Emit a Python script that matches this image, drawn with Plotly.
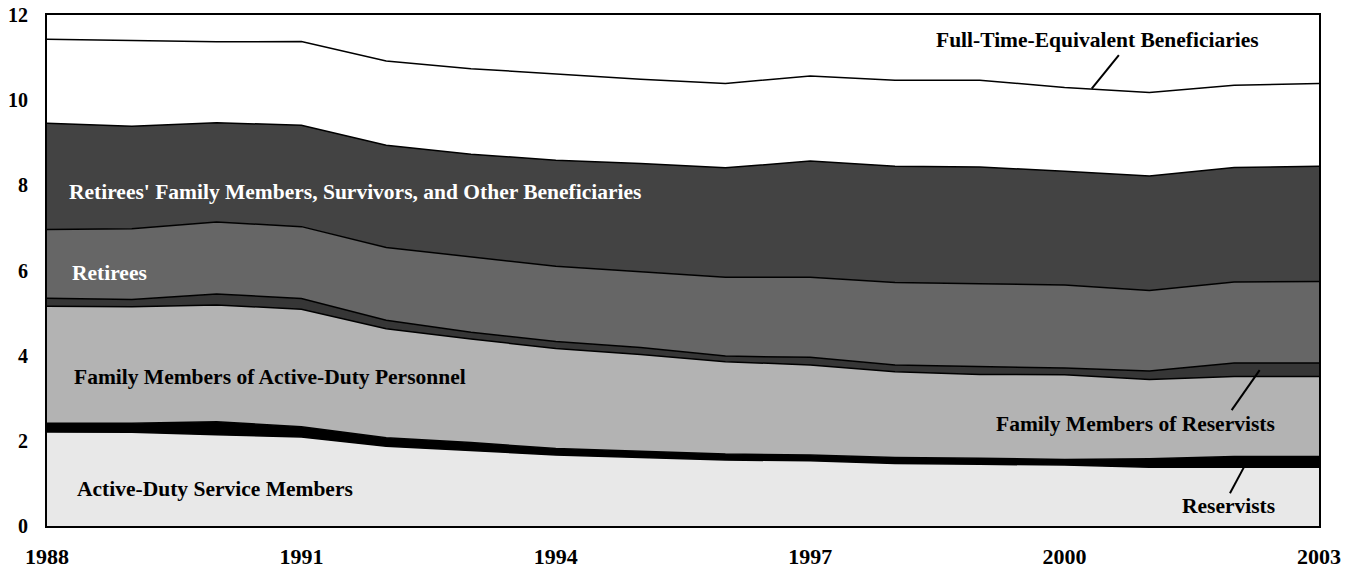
import plotly.graph_objects as go

# beneficiaries in millions, stacked from the bottom
years = list(range(1988, 2004))
active_duty = [2.21, 2.20, 2.14, 2.09, 1.87, 1.77, 1.67, 1.61, 1.55, 1.53, 1.47, 1.45, 1.43, 1.38, 1.38, 1.38]
reservists = [0.20, 0.21, 0.31, 0.24, 0.20, 0.19, 0.15, 0.14, 0.14, 0.14, 0.14, 0.14, 0.13, 0.20, 0.25, 0.25]
active_family = [2.75, 2.74, 2.74, 2.76, 2.56, 2.43, 2.35, 2.28, 2.17, 2.11, 2.01, 1.97, 1.99, 1.86, 1.88, 1.88]
reservist_family = [0.19, 0.17, 0.26, 0.25, 0.20, 0.16, 0.16, 0.16, 0.13, 0.18, 0.16, 0.18, 0.16, 0.20, 0.32, 0.32]
retirees = [1.61, 1.66, 1.69, 1.69, 1.71, 1.77, 1.77, 1.78, 1.85, 1.88, 1.94, 1.95, 1.95, 1.89, 1.90, 1.91]
retiree_family = [2.50, 2.41, 2.33, 2.38, 2.40, 2.41, 2.49, 2.54, 2.57, 2.73, 2.73, 2.74, 2.67, 2.69, 2.69, 2.71]
fte_total = [11.43, 11.40, 11.37, 11.38, 10.92, 10.74, 10.61, 10.49, 10.39, 10.57, 10.47, 10.47, 10.30, 10.18, 10.35, 10.39]

x_ticks = [1988, 1991, 1994, 1997, 2000, 2003]
y_ticks = [0, 2, 4, 6, 8, 10, 12]

layers = [
    ('Active-Duty Service Members', active_duty, '#e8e8e8'),
    ('Reservists', reservists, '#000000'),
    ('Family Members of Active-Duty Personnel', active_family, '#b3b3b3'),
    ('Family Members of Reservists', reservist_family, '#363636'),
    ('Retirees', retirees, '#666666'),
    ("Retirees' Family Members, Survivors, and Other Beneficiaries", retiree_family, '#434343'),
]

serif = 'Liberation Serif'

fig = go.Figure()
for name, vals, col in layers:
    fig.add_trace(go.Scatter(
        x=years, y=vals, name=name, mode='lines', stackgroup='one',
        fillcolor=col, line=dict(color='black', width=1.5),
    ))
fig.add_trace(go.Scatter(
    x=years, y=fte_total, name='Full-Time-Equivalent Beneficiaries',
    mode='lines', line=dict(color='black', width=1.5),
))

def label(text, x, y, anchor, color):
    fig.add_annotation(
        x=x, y=y, text=text, showarrow=False, xanchor=anchor, yanchor='middle',
        font=dict(family=serif, size=21.5, color=color, weight=700),
    )

label("Retirees' Family Members, Survivors, and Other Beneficiaries", 1988.24, 7.84, 'left', 'white')
label('Retirees', 1988.27, 5.94, 'left', 'white')
label('Family Members of Active-Duty Personnel', 1988.29, 3.50, 'left', 'black')
label('Active-Duty Service Members', 1988.33, 0.87, 'left', 'black')
label('Full-Time-Equivalent Beneficiaries', 2002.32, 11.42, 'right', 'black')
label('Family Members of Reservists', 2002.50, 2.39, 'right', 'black')
label('Reservists', 2002.50, 0.47, 'right', 'black')

# leader lines
for x0, y0, x1, y1 in [(2000.64, 11.06, 2000.32, 10.27),
                       (2002.30, 3.66, 2001.97, 2.72),
                       (2002.12, 1.40, 2001.95, 0.77)]:
    fig.add_shape(type='line', x0=x0, y0=y0, x1=x1, y1=y1, opacity=1,
                  xref='x', yref='y', line=dict(color='black', width=2))

fig.update_layout(
    width=1359, height=571,
    margin=dict(l=47, r=40, t=15, b=45),
    showlegend=False,
    plot_bgcolor='white', paper_bgcolor='white',
)
fig.update_xaxes(
    range=[1988, 2003], tickvals=x_ticks, ticks='', showgrid=False, zeroline=False,
    showline=True, mirror=True, linecolor='black', linewidth=2,
    tickfont=dict(family=serif, size=22, color='black', weight=700),
    ticklabelstandoff=10, automargin=False, ticklabeloverflow='allow',
)
fig.update_yaxes(
    range=[0, 12], tickvals=y_ticks, ticks='', showgrid=False, zeroline=False,
    showline=True, mirror=True, linecolor='black', linewidth=2,
    tickfont=dict(family=serif, size=20, color='black', weight=700),
    ticklabelstandoff=13, automargin=False, ticklabeloverflow='allow',
)

# drop the default body margin so the figure fills the window exactly
fig.write_html('out.html', config={'displayModeBar': False},
               post_script="document.body.style.margin='0';")
